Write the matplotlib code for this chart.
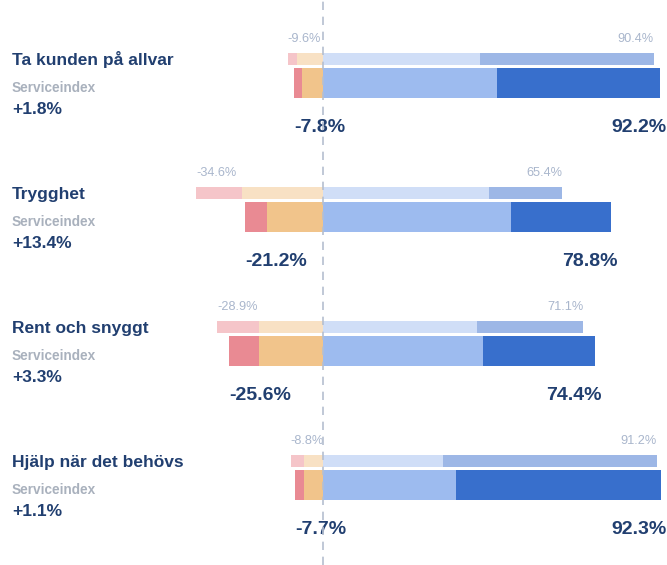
import matplotlib.pyplot as plt
import matplotlib.transforms as mtransforms

plt.rcParams['font.family'] = ['Liberation Sans', 'DejaVu Sans']

# --- data ---
categories = ["Ta kunden på allvar", "Trygghet", "Rent och snyggt", "Hjälp när det behövs"]
index_change = ["+1.8%", "+13.4%", "+3.3%", "+1.1%"]

# current period (thick bar)
red_now = [2.0, 5.9, 8.1, 2.5]
orange_now = [5.8, 15.3, 17.5, 5.2]
light_now = [47.5, 51.4, 43.8, 36.3]
dark_now = [44.7, 27.4, 30.6, 56.0]

# previous period (thin bar)
red_prev = [2.4, 12.6, 11.4, 3.6]
orange_prev = [7.2, 22.0, 17.5, 5.2]
light_prev = [43.0, 45.4, 42.0, 32.9]
dark_prev = [47.4, 20.0, 29.1, 58.3]

# --- figure ---
fig = plt.figure(figsize=(6.67, 5.65), dpi=100)
ax = fig.add_axes([0, 0, 1, 1])
ax.set_xlim(-323 / 3.66, 344 / 3.66)
ax.set_ylim(565, 0)
ax.axis('off')
tr = mtransforms.blended_transform_factory(ax.transAxes, ax.transData)

row_y = [59, 193, 327, 461]
h_prev, h_now = 12, 30
navy = '#213f70'

for i, cat in enumerate(categories):
    yp = row_y[i]
    yn = yp + 24
    # thin bar (previous)
    ax.barh(yp, -orange_prev[i], height=h_prev, color='#f8e1c4', lw=0)
    ax.barh(yp, -red_prev[i], left=-orange_prev[i], height=h_prev, color='#f5c5c9', lw=0)
    ax.barh(yp, light_prev[i], height=h_prev, color='#d0def7', lw=0)
    ax.barh(yp, dark_prev[i], left=light_prev[i], height=h_prev, color='#9db7e6', lw=0)
    # thick bar (current)
    ax.barh(yn, -orange_now[i], height=h_now, color='#f1c48b', lw=0)
    ax.barh(yn, -red_now[i], left=-orange_now[i], height=h_now, color='#e98a93', lw=0)
    ax.barh(yn, light_now[i], height=h_now, color='#9dbbef', lw=0)
    ax.barh(yn, dark_now[i], left=light_now[i], height=h_now, color='#386fcc', lw=0)

    neg_prev = red_prev[i] + orange_prev[i]
    pos_prev = light_prev[i] + dark_prev[i]
    neg_now = red_now[i] + orange_now[i]
    pos_now = light_now[i] + dark_now[i]

    ax.text(-neg_prev, yp - 20, f"-{neg_prev:.1f}%", ha='left', va='center',
            fontsize=9.2, color='#a9b6cc')
    ax.text(pos_prev, yp - 20, f"{pos_prev:.1f}%", ha='right', va='center',
            fontsize=9.2, color='#a9b6cc')
    ax.text(-neg_now, yn + 44, f"-{neg_now:.1f}%", ha='left', va='center',
            fontsize=14, fontweight='bold', color=navy)
    ax.text(pos_now + 1.6, yn + 44, f"{pos_now:.1f}%", ha='right', va='center',
            fontsize=14, fontweight='bold', color=navy)

    ax.text(12 / 667, yp + 1, cat, transform=tr, ha='left', va='center',
            fontsize=12.5, fontweight='bold', color=navy)
    ax.text(12 / 667, yp + 29, "Serviceindex", transform=tr, ha='left', va='center',
            fontsize=9.8, fontweight='bold', color='#a9b1bd')
    ax.text(12 / 667, yp + 51, index_change[i], transform=tr, ha='left', va='center',
            fontsize=12.5, fontweight='bold', color=navy)

ax.axvline(0, color='#b5bfd0', lw=1.2, ls=(0, (5, 4)), zorder=5)

fig.savefig('out.png', dpi=100)
